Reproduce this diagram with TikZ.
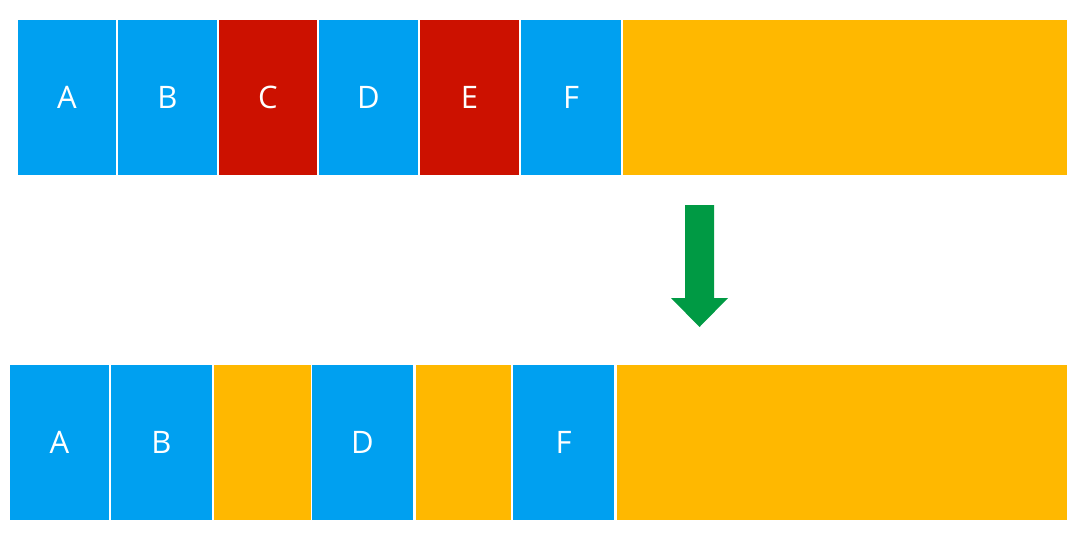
\documentclass[tikz,border=0pt]{standalone}
\usepackage{fontspec}
\setmainfont{Open Sans}
\usetikzlibrary{shapes.arrows}
\definecolor{cblue}{RGB}{0,160,240}
\definecolor{cred}{RGB}{204,17,0}
\definecolor{cyellow}{RGB}{255,184,0}
\definecolor{cgreen}{RGB}{0,154,68}
\tikzset{
  cell/.style={anchor=north west,inner sep=0pt,outer sep=0pt,minimum height=155pt,
    text=white,font=\fontsize{31}{36}\selectfont},
  bluecell/.style={cell,fill=cblue},
  redcell/.style={cell,fill=cred},
  yelcell/.style={cell,fill=cyellow},
}
\begin{document}
\begin{tikzpicture}[x=1pt,y=-1pt]
\useasboundingbox[fill=white] (0,0) rectangle (1067,533);
% top row
\node[bluecell,minimum width=98pt] (tA) at (18,20) {A};
\node[bluecell,minimum width=99pt] (tB) at (118,20) {B};
\node[redcell,minimum width=98pt] (tC) at (219,20) {C};
\node[bluecell,minimum width=99pt] (tD) at (319,20) {D};
\node[redcell,minimum width=99pt] (tE) at (420,20) {E};
\node[bluecell,minimum width=100pt] (tF) at (521,20) {F};
\node[yelcell,minimum width=444pt] (tY) at (623,20) {};
% bottom row
\node[bluecell,minimum width=99pt,minimum height=155.5pt] (bA) at (10,364.5) {A};
\node[bluecell,minimum width=101pt,minimum height=155.5pt] (bB) at (111,364.5) {B};
\node[yelcell,minimum width=97pt,minimum height=155.5pt] (bY1) at (214,364.5) {};
\node[bluecell,minimum width=101pt,minimum height=155.5pt] (bD) at (312,364.5) {D};
\node[yelcell,minimum width=95pt,minimum height=155.5pt] (bY2) at (416,364.5) {};
\node[bluecell,minimum width=101pt,minimum height=155.5pt] (bF) at (513,364.5) {F};
\node[yelcell,minimum width=450pt,minimum height=155.5pt] (bY3) at (617,364.5) {};
% arrow
\fill[cgreen] (685,205) -- (714,205) -- (714,298) -- (728,298) -- (699.5,327) -- (671,298) -- (685,298) -- cycle;
\end{tikzpicture}
\end{document}
